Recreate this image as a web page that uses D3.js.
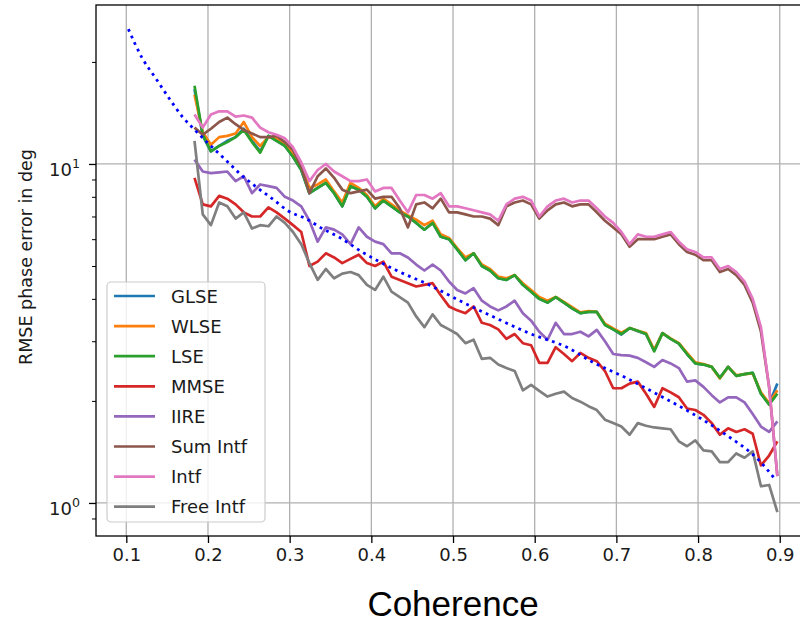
<!DOCTYPE html>
<html><head><meta charset="utf-8">
<script src="https://cdn.jsdelivr.net/npm/d3@7"></script>
<style>body{margin:0;background:#fff}svg{display:block}</style>
</head><body><svg id="c" width="800" height="624"></svg>
<script>
const coherence = [0.1835,0.1936,0.2036,0.2137,0.2237,0.2338,0.2438,0.2539,0.2639,0.2740,
0.2840,0.2941,0.3041,0.3142,0.3242,0.3343,0.3443,0.3544,0.3644,0.3745,
0.3845,0.3946,0.4046,0.4147,0.4247,0.4348,0.4448,0.4549,0.4649,0.4750,
0.4850,0.4951,0.5051,0.5152,0.5252,0.5353,0.5453,0.5554,0.5654,0.5755,
0.5855,0.5956,0.6056,0.6157,0.6257,0.6358,0.6458,0.6559,0.6659,0.6760,
0.6860,0.6961,0.7061,0.7162,0.7262,0.7363,0.7463,0.7564,0.7664,0.7765,
0.7865,0.7966,0.8066,0.8167,0.8267,0.8368,0.8468,0.8569,0.8669,0.8770,
0.8870,0.8971];

const glse = [16.6,12.1,10.9,11.3,11.7,12.0,12.7,11.7,10.9,12.1,
11.7,11.3,10.5,9.6,8.2,8.5,8.8,8.2,7.5,8.6,
8.4,8.0,7.4,7.8,7.5,7.2,7.0,6.7,6.4,6.7,
6.1,6.0,5.6,5.2,5.45,5.0,4.85,4.6,4.55,4.7,
4.4,4.2,4.0,3.9,4.05,3.9,3.75,3.63,3.66,3.66,
3.36,3.25,3.14,3.28,3.21,3.15,2.82,3.17,3.05,2.95,
2.75,2.58,2.56,2.52,2.34,2.52,2.37,2.4,2.42,2.1,
1.96,2.25];
const wlse = [16.0,12.4,11.4,12.0,12.1,12.3,13.3,12.0,11.3,12.0,
11.9,11.5,10.7,9.9,8.5,8.7,9.0,8.3,7.7,8.8,
8.5,8.1,7.5,7.9,7.6,7.3,7.05,6.85,6.6,6.8,
6.2,6.05,5.65,5.3,5.45,5.05,4.9,4.65,4.6,4.7,
4.45,4.25,4.05,3.95,4.05,3.92,3.78,3.65,3.68,3.66,
3.38,3.27,3.18,3.28,3.22,3.17,2.83,3.17,3.06,2.96,
2.77,2.6,2.57,2.52,2.33,2.52,2.38,2.4,2.41,2.12,
1.97,2.15];
const lse = [17.0,12.2,10.9,11.3,11.6,12.0,12.6,11.6,10.8,12.1,
11.7,11.3,10.5,9.6,8.2,8.5,8.8,8.2,7.5,8.6,
8.4,8.0,7.4,7.8,7.5,7.2,7.0,6.7,6.4,6.7,
6.1,6.0,5.6,5.2,5.45,5.0,4.85,4.6,4.55,4.7,
4.4,4.2,4.0,3.9,4.05,3.9,3.75,3.63,3.66,3.66,
3.35,3.25,3.15,3.28,3.22,3.15,2.8,3.17,3.05,2.95,
2.75,2.58,2.56,2.52,2.34,2.52,2.37,2.4,2.42,2.1,
1.95,2.1];
const mmse = [9.1,7.6,7.5,8.05,7.9,7.6,7.2,7.0,7.0,7.45,
7.2,6.9,6.6,6.3,5.0,5.15,5.45,5.3,5.1,5.25,
5.4,5.1,5.0,5.15,4.65,4.55,4.45,4.35,4.4,4.45,
4.1,3.8,3.7,3.63,3.8,3.4,3.35,3.25,3.05,3.15,
2.96,2.92,2.59,2.59,2.88,2.75,2.62,2.77,2.68,2.62,
2.45,2.18,2.18,2.25,2.28,2.1,1.92,2.18,2.12,2.05,
1.9,1.88,1.82,1.72,1.59,1.66,1.62,1.65,1.6,1.29,
1.38,1.52];
const iire = [10.3,9.5,9.4,9.45,9.5,8.9,9.2,8.2,8.7,8.6,
8.5,8.0,7.8,7.5,6.8,5.9,6.5,6.4,6.2,5.8,
6.5,6.1,5.9,5.8,5.45,5.45,5.3,5.05,4.85,5.05,
4.85,4.5,4.25,4.15,4.3,3.95,3.8,3.7,3.8,3.95,
3.63,3.45,3.2,3.03,3.4,3.15,3.15,3.2,3.1,3.24,
3.0,2.75,2.73,2.72,2.68,2.6,2.52,2.64,2.58,2.5,
2.28,2.3,2.2,2.08,1.98,2.05,2.05,1.98,1.83,1.68,
1.62,1.74];
const sumIntf = [12.8,12.2,12.7,13.3,13.7,13.1,12.6,12.3,12.0,12.0,
12.1,11.6,11.0,9.8,8.2,9.2,9.7,9.1,8.4,8.2,
8.3,8.4,7.9,8.0,8.0,7.4,6.5,7.6,7.7,7.4,
7.9,7.2,7.2,7.1,7.0,7.0,6.9,6.6,7.5,7.7,
7.8,7.6,6.9,7.3,7.6,7.7,7.5,7.6,7.6,7.2,
6.8,6.5,6.2,5.7,6.0,6.0,6.0,6.1,6.2,5.8,
5.5,5.4,5.2,5.2,4.8,4.9,4.7,4.4,3.9,3.2,
2.2,1.2];
const intf = [14.0,12.8,14.0,14.3,14.3,13.8,13.9,13.7,12.8,12.4,
12.2,11.9,11.2,10.1,8.9,9.6,10.0,9.5,9.2,8.9,
8.9,9.0,8.3,8.5,8.5,7.8,7.2,8.1,8.1,7.9,
8.2,7.5,7.5,7.4,7.3,7.2,7.1,6.8,7.6,7.9,
8.0,7.8,7.0,7.5,7.8,7.9,7.7,7.8,7.8,7.4,
7.0,6.7,6.3,5.8,6.2,6.1,6.1,6.2,6.3,5.9,
5.6,5.5,5.3,5.3,4.9,5.0,4.8,4.5,4.0,3.3,
2.2,1.2];
const freeIntf = [11.7,7.1,6.6,7.7,7.5,6.9,7.2,6.45,6.6,6.55,
7.0,6.7,6.3,5.8,5.1,4.55,4.9,4.6,4.75,4.8,
4.7,4.4,4.25,4.65,4.2,4.05,3.9,3.55,3.3,3.6,
3.35,3.25,3.15,2.96,3.03,2.66,2.68,2.56,2.5,2.45,
2.15,2.23,2.14,2.06,2.1,2.13,2.04,1.99,1.93,1.88,
1.76,1.72,1.68,1.59,1.72,1.69,1.67,1.66,1.65,1.52,
1.47,1.53,1.43,1.42,1.32,1.32,1.4,1.36,1.42,1.12,
1.13,0.94];

const boundX = [0.1025,0.1196,0.136,0.1526,0.1685,0.1853,0.2036,0.222,0.2382,0.2587,
0.2786,0.2994,0.3198,0.3398,0.3606,0.3887,0.4303,0.4706,0.511,0.5526,
0.593,0.6419,0.67,0.7116,0.752,0.7924,0.834,0.874,0.895];
const boundY = [25.0,20.5,17.9,15.6,13.8,12.5,11.3,10.26,9.4,8.57,
7.9,7.24,6.9,6.45,6.08,5.5,4.86,4.4,3.92,3.51,
3.17,2.86,2.61,2.34,2.08,1.84,1.59,1.34,1.17];

const seriesNames = ["GLSE","WLSE","LSE","MMSE","IIRE","Sum Intf","Intf","Free Intf"];
const seriesValues = [glse,wlse,lse,mmse,iire,sumIntf,intf,freeIntf];
const seriesColors = ["#1f77b4","#ff7f0e","#2ca02c","#d62728","#9467bd","#8c564b","#e377c2","#7f7f7f"];
const xTicks = [0.1,0.2,0.3,0.4,0.5,0.6,0.7,0.8,0.9];
const xTickLabels = ["0.1","0.2","0.3","0.4","0.5","0.6","0.7","0.8","0.9"];
const yMajor = [1,10];
const yMajorExp = ["0","1"];
const yMinor = [0.9,2,3,4,5,6,7,8,9,20];

const FONT = "'DejaVu Sans', sans-serif";
const FS = 18;
const svg = d3.select("#c");
const L = 96, R = 808, T = 5, B = 536;
const x = d3.scaleLinear().domain([0.0629,0.9346]).range([L,R]);
const y = d3.scaleLog().domain([0.799,29.44]).range([B,T]);

svg.append("defs").append("clipPath").attr("id","clip")
  .append("rect").attr("x",L).attr("y",T).attr("width",R-L).attr("height",B-T);

// grid
const grid = svg.append("g").attr("stroke","#b0b0b0").attr("stroke-width",1.3);
grid.selectAll("line.v").data(xTicks).join("line")
  .attr("x1",d=>x(d)).attr("x2",d=>x(d)).attr("y1",T).attr("y2",B);
grid.selectAll("line.h").data(yMajor).join("line")
  .attr("y1",d=>y(d)).attr("y2",d=>y(d)).attr("x1",L).attr("x2",R);

// series
const line = d3.line().x(d=>x(d[0])).y(d=>y(d[1]));
const plot = svg.append("g").attr("clip-path","url(#clip)");
seriesValues.forEach((vals,k)=>{
  plot.append("path").datum(coherence.map((c,i)=>[c,vals[i]]))
    .attr("d",line).attr("fill","none").attr("stroke",seriesColors[k])
    .attr("stroke-width",2.7).attr("stroke-linejoin","round");
});
plot.append("path").datum(boundX.map((c,i)=>[c,boundY[i]]))
  .attr("d",d3.line().x(d=>x(d[0])).y(d=>y(d[1])).curve(d3.curveMonotoneX))
  .attr("fill","none").attr("stroke","#0000ff").attr("stroke-width",2.8)
  .attr("stroke-dasharray","2.8,4.4");

// spines
svg.append("rect").attr("x",L).attr("y",T).attr("width",R-L).attr("height",B-T)
  .attr("fill","none").attr("stroke","#000").attr("stroke-width",1.3);

// x axis
const xa = svg.append("g").attr("transform",`translate(0,${B})`)
  .call(d3.axisBottom(x).tickValues(xTicks).tickFormat((d,i)=>xTickLabels[i]).tickSize(7).tickPadding(5));
xa.select(".domain").remove();
xa.selectAll("line").attr("stroke","#000").attr("stroke-width",1.3);
xa.selectAll("text").attr("font-family",FONT).attr("font-size",FS).attr("fill","#1a1a1a");

// y axis
const ya = svg.append("g").attr("transform",`translate(${L},0)`)
  .call(d3.axisLeft(y).tickValues(yMajor).tickFormat("").tickSize(7));
ya.select(".domain").remove();
ya.selectAll("line").attr("stroke","#000").attr("stroke-width",1.3);
ya.selectAll(".tick text").remove();
ya.selectAll(".tick").each(function(d,i){
  const t = d3.select(this).append("text").attr("x",-16).attr("y",11.5)
    .attr("text-anchor","end").attr("font-family",FONT).attr("fill","#1a1a1a");
  t.append("tspan").attr("font-size",FS).text("10");
  t.append("tspan").attr("font-size",12.6).attr("dy",-8).text(yMajorExp[i]);
});
const ym = svg.append("g").attr("transform",`translate(${L},0)`)
  .call(d3.axisLeft(y).tickValues(yMinor).tickFormat("").tickSize(4));
ym.select(".domain").remove();
ym.selectAll("line").attr("stroke","#000").attr("stroke-width",1);

// y label
svg.append("text").attr("transform","translate(26,257) rotate(-90)")
  .attr("text-anchor","middle").attr("dominant-baseline","central")
  .attr("font-family",FONT).attr("font-size",17.5).attr("fill","#1a1a1a")
  .text("RMSE phase error in deg");

// x label
svg.append("text").attr("x",453).attr("y",616).attr("text-anchor","middle")
  .attr("font-family","'Liberation Sans', Arial, sans-serif").attr("font-size",35)
  .attr("fill","#000").text("Coherence");

// legend
const lg = svg.append("g");
lg.append("rect").attr("x",107).attr("y",282).attr("width",158).attr("height",240)
  .attr("rx",4).attr("fill","#fff").attr("fill-opacity",0.8)
  .attr("stroke","#cccccc").attr("stroke-width",1.2);
seriesNames.forEach((n,k)=>{
  const cy = 296 + k*30.1;
  lg.append("line").attr("x1",114).attr("x2",155).attr("y1",cy).attr("y2",cy)
    .attr("stroke",seriesColors[k]).attr("stroke-width",2.7);
  lg.append("text").attr("x",171).attr("y",cy+6.5).attr("font-family",FONT)
    .attr("font-size",FS).attr("fill","#1a1a1a").text(n);
});
</script></body></html>
